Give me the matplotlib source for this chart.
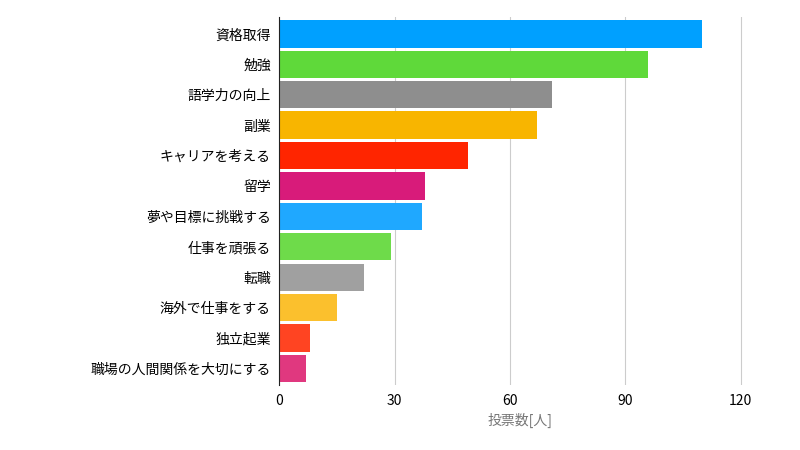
import matplotlib
matplotlib.use("Agg")
import matplotlib.pyplot as plt

categories = ["資格取得","勉強","語学力の向上","副業","キャリアを考える","留学","夢や目標に挑戦する","仕事を頑張る","転職","海外で仕事をする","独立起業","職場の人間関係を大切にする"]
values = [110, 96, 71, 67, 49, 38, 37, 29, 22, 15, 8, 7]
colors = ["#00A0FF","#5FD93A","#8E8E8E","#F8B500","#FF2500","#D81B7A",
          "#1FA8FF","#6EDB4A","#A0A0A0","#FBC02D","#FF4422","#E0387F"]
xticks = [0, 30, 60, 90, 120]

plt.rcParams["font.family"] = "Noto Sans CJK JP"
fig = plt.figure(figsize=(8, 4.5), dpi=100)
ax = fig.add_axes([0.349, 0.144, 0.601, 0.818])
y = list(range(len(categories)))
ax.barh(y, values, height=0.9, color=colors, zorder=2)
ax.set_yticks(y)
ax.set_yticklabels(categories, fontsize=10)
ax.invert_yaxis()
ax.set_ylim(len(categories) - 0.45, -0.55)
ax.set_xlim(0, 125)
ax.set_xticks(xticks)
ax.set_xticklabels([str(t) for t in xticks], fontsize=10)
ax.grid(axis="x", color="#cccccc", linewidth=0.8, zorder=0)
for s in ["top", "right", "bottom"]:
    ax.spines[s].set_visible(False)
ax.spines["left"].set_color("#222222")
ax.tick_params(length=0, pad=6)
ax.set_xlabel("投票数[人]", fontsize=10, color="#777777")
fig.savefig("out.png", dpi=100)
